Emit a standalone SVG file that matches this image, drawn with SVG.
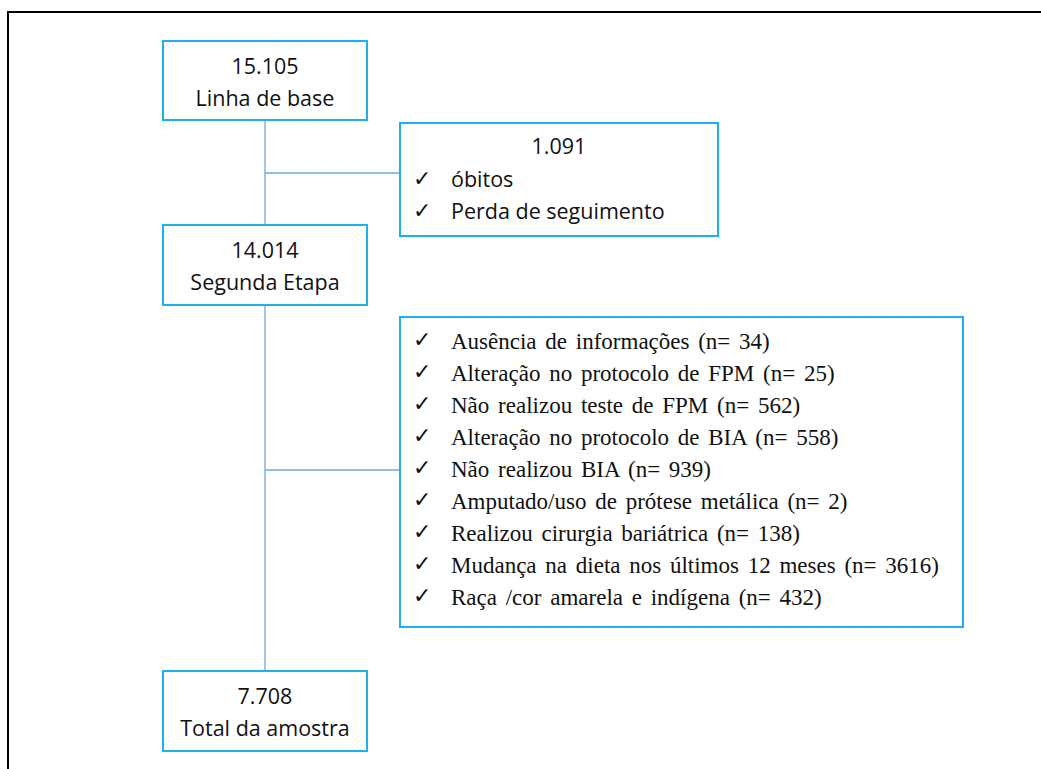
<svg xmlns="http://www.w3.org/2000/svg" width="1041" height="769" viewBox="0 0 1041 769">
<style>
.box{fill:#fff;stroke:#1CB0EC;stroke-width:2}
.conn{stroke:#6FA8DC;stroke-width:1.3;fill:none}
.t{font-family:"Open Sans","Noto Sans",sans-serif;font-size:21.5px;fill:#111}
.c{text-anchor:middle}
.lst{font-family:"Liberation Serif","Times New Roman",serif;font-size:23px;fill:#111;word-spacing:3px}
.chk{font-family:"DejaVu Sans",sans-serif;font-size:22px;fill:#111}
</style>
<rect width="1041" height="769" fill="#fff"/>
<path d="M8,769 V12 H1041" fill="none" stroke="#000" stroke-width="2"/>
<g id="connectors">
<line class="conn" x1="265" y1="120" x2="265" y2="671"/>
<line class="conn" x1="265" y1="173" x2="400" y2="173"/>
<line class="conn" x1="265" y1="470" x2="399" y2="470"/>
</g>
<g id="baseline">
<rect class="box" x="163" y="41" width="204" height="79"/>
<text class="t c" x="265" y="74">15.105</text>
<text class="t c" x="265" y="106">Linha de base</text>
</g>
<g id="losses">
<rect class="box" x="400" y="123" width="318" height="113"/>
<text class="t c" x="559" y="154">1.091</text>
<text class="chk" x="413" y="186">✓</text>
<text class="t" x="451" y="187">óbitos</text>
<text class="chk" x="413" y="218">✓</text>
<text class="t" x="451" y="219">Perda de seguimento</text>
</g>
<g id="second">
<rect class="box" x="163" y="225" width="204" height="80"/>
<text class="t c" x="265" y="258">14.014</text>
<text class="t c" x="265" y="290">Segunda Etapa</text>
</g>
<g id="exclusions">
<rect class="box" x="400" y="317" width="563" height="310"/>
<g class="chk">
<text x="413" y="347">✓</text>
<text x="413" y="379">✓</text>
<text x="413" y="411">✓</text>
<text x="413" y="443">✓</text>
<text x="413" y="475">✓</text>
<text x="413" y="507">✓</text>
<text x="413" y="539">✓</text>
<text x="413" y="571">✓</text>
<text x="413" y="603">✓</text>
</g>
<g class="lst">
<text x="451" y="349">Ausência de informações (n= 34)</text>
<text x="451" y="381">Alteração no protocolo de FPM (n= 25)</text>
<text x="451" y="413">Não realizou teste de FPM (n= 562)</text>
<text x="451" y="445">Alteração no protocolo de BIA (n= 558)</text>
<text x="451" y="477">Não realizou BIA (n= 939)</text>
<text x="451" y="509">Amputado/uso de prótese metálica (n= 2)</text>
<text x="451" y="541">Realizou cirurgia bariátrica (n= 138)</text>
<text x="451" y="573">Mudança na dieta nos últimos 12 meses (n= 3616)</text>
<text x="451" y="605">Raça /cor amarela e indígena (n= 432)</text>
</g>
</g>
<g id="total">
<rect class="box" x="163" y="671" width="204" height="80"/>
<text class="t c" x="265" y="704">7.708</text>
<text class="t c" x="265" y="736">Total da amostra</text>
</g>
</svg>
